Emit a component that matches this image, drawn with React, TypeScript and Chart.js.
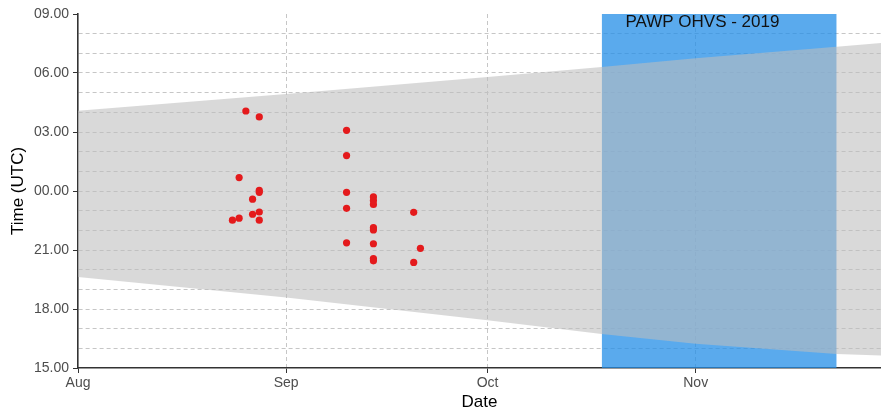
import React, { useEffect, useRef } from 'react';
import { Chart, registerables } from 'chart.js';

Chart.register(...registerables);

// ---- data ----
const ORIGIN = '2019-08-01';
const X_MAX = '2019-11-28T14:24';
const MONTH_TICKS = ['2019-08-01', '2019-09-01', '2019-10-01', '2019-11-01'];
const MONTH_LABELS = ['Aug', 'Sep', 'Oct', 'Nov'];
const Y_MIN = 15;
const Y_MAX = 33;
const HOUR_TICKS = [15, 16, 17, 18, 19, 20, 21, 22, 23, 24, 25, 26, 27, 28, 29, 30, 31, 32, 33];

const POINT_DATES = [
  '2019-08-24', '2019-08-25', '2019-08-25', '2019-08-26', '2019-08-27', '2019-08-27',
  '2019-08-28', '2019-08-28', '2019-08-28', '2019-08-28', '2019-08-28',
  '2019-09-10', '2019-09-10', '2019-09-10', '2019-09-10', '2019-09-10',
  '2019-09-14', '2019-09-14', '2019-09-14', '2019-09-14', '2019-09-14', '2019-09-14', '2019-09-14', '2019-09-14',
  '2019-09-20', '2019-09-20', '2019-09-21',
];
const POINT_TIMES = [
  '22:31', '00:41', '22:37', '04:04', '23:35', '22:49',
  '03:46', '00:02', '23:56', '22:56', '22:31',
  '03:05', '01:48', '23:56', '23:07', '21:22',
  '23:42', '23:31', '23:19', '22:08', '22:01', '21:19', '20:34', '20:27',
  '22:55', '20:22', '21:05',
];

const BAND_DATES = ['2019-08-01', '2019-09-01', '2019-10-01', '2019-10-18', '2019-11-01', '2019-11-22', '2019-11-30'];
const BAND_TOP = ['04:05', '04:56', '05:48', '06:18', '06:45', '07:20', '07:34'];
const BAND_BOTTOM = ['19:38', '18:35', '17:26', '16:44', '16:14', '15:43', '15:37'];

const RECT_START = '2019-10-18';
const RECT_END = '2019-11-22';
const RECT_LABEL = 'PAWP OHVS - 2019';
const RECT_LABEL_DATE = '2019-11-02';
const RECT_LABEL_TIME = '08:34';

// ---- helpers ----
const dayOf = (s: string) => {
  const iso = s.length === 10 ? s + 'T00:00Z' : s + 'Z';
  return (Date.parse(iso) - Date.parse(ORIGIN + 'T00:00Z')) / 86400000;
};
const hourOf = (t: string) => {
  const [h, m] = t.split(':').map(Number);
  const v = h + m / 60;
  return v < Y_MIN ? v + 24 : v;
};
const fmtHour = (v: number) => String(((Math.round(v) % 24) + 24) % 24).padStart(2, '0') + '.00';

const FONT = "'Liberation Sans', Arial, sans-serif";
const GRID = '#c6c6c6';
const AXIS = '#333333';
const TICK_TXT = '#4d4d4d';

const labelPlugin = {
  id: 'rectLabel',
  afterDatasetsDraw(chart: any) {
    const { ctx, scales } = chart;
    const x = scales.x.getPixelForValue(dayOf(RECT_LABEL_DATE));
    const y = scales.y.getPixelForValue(hourOf(RECT_LABEL_TIME));
    ctx.save();
    ctx.font = `17px ${FONT}`;
    ctx.fillStyle = '#111';
    ctx.textAlign = 'center';
    ctx.textBaseline = 'middle';
    ctx.fillText(RECT_LABEL, x, y);
    ctx.restore();
  },
};

export default function App() {
  const ref = useRef<HTMLCanvasElement>(null);
  useEffect(() => {
    if (!ref.current) return;
    const monthDays = MONTH_TICKS.map(dayOf);
    const points = POINT_DATES.map((d, i) => ({ x: dayOf(d), y: hourOf(POINT_TIMES[i]) }));
    const top = BAND_DATES.map((d, i) => ({ x: dayOf(d), y: hourOf(BAND_TOP[i]) }));
    const bottom = BAND_DATES.map((d, i) => ({ x: dayOf(d), y: hourOf(BAND_BOTTOM[i]) }));
    const rect = [
      { x: dayOf(RECT_START), y: Y_MAX },
      { x: dayOf(RECT_END), y: Y_MAX },
    ];
    const chart = new Chart(ref.current, {
      type: 'line',
      data: {
        datasets: [
          {
            data: points,
            showLine: false,
            pointRadius: 3.6,
            pointBorderWidth: 0,
            pointBackgroundColor: 'rgb(228,26,28)',
            borderColor: 'rgb(228,26,28)',
            order: 0,
          } as any,
          {
            data: top,
            borderWidth: 0,
            borderColor: 'transparent',
            pointRadius: 0,
            fill: '+1',
            backgroundColor: 'rgba(189,189,189,0.58)',
            tension: 0,
            order: 1,
          },
          {
            data: bottom,
            borderWidth: 0,
            borderColor: 'transparent',
            pointRadius: 0,
            fill: false,
            tension: 0,
            order: 1,
          },
          {
            data: rect,
            borderWidth: 0,
            borderColor: 'transparent',
            pointRadius: 0,
            fill: 'start',
            backgroundColor: 'rgba(35,142,231,0.75)',
            order: 2,
          },
        ],
      },
      options: {
        animation: false,
        responsive: true,
        maintainAspectRatio: false,
        layout: { padding: { top: 14, right: 0, left: 0, bottom: 0 } },
        plugins: { legend: { display: false }, tooltip: { enabled: false } },
        scales: {
          x: {
            type: 'linear',
            min: 0,
            max: dayOf(X_MAX),
            afterBuildTicks: (s: any) => {
              s.ticks = monthDays.map((v) => ({ value: v }));
            },
            afterFit: (s: any) => {
              s.height = 46;
              s.paddingLeft = 0;
              s.paddingRight = 0;
            },
            ticks: {
              autoSkip: false,
              maxRotation: 0,
              padding: 2,
              color: TICK_TXT,
              font: { family: FONT, size: 14 },
              callback: (v: any) => {
                const i = monthDays.indexOf(Number(v));
                return i >= 0 ? MONTH_LABELS[i] : '';
              },
            },
            grid: {
              color: (c: any) => (c.tick && c.tick.value === 0 ? 'transparent' : GRID),
              lineWidth: 1,
              tickLength: 5,
              tickColor: AXIS,
              tickWidth: 1,
            },
            border: { display: true, color: AXIS, width: 1.6, dash: [4, 3] },
            title: {
              display: true,
              text: 'Date',
              color: '#000',
              font: { family: FONT, size: 17 },
              padding: { top: 0, bottom: 1 },
            },
          },
          y: {
            type: 'linear',
            min: Y_MIN,
            max: Y_MAX,
            afterBuildTicks: (s: any) => {
              s.ticks = HOUR_TICKS.map((v) => ({ value: v }));
            },
            afterFit: (s: any) => {
              s.width = 78;
              s.paddingTop = 0;
              s.paddingBottom = 0;
            },
            ticks: {
              autoSkip: false,
              padding: 4,
              color: TICK_TXT,
              font: { family: FONT, size: 14 },
              callback: (v: any) => (Number(v) % 3 === 0 ? fmtHour(Number(v)) : ''),
            },
            grid: {
              color: (c: any) =>
                c.tick && (c.tick.value === Y_MIN || c.tick.value === Y_MAX) ? 'transparent' : GRID,
              lineWidth: 1,
              tickLength: 5,
              tickColor: (c: any) => (c.tick && c.tick.value % 3 === 0 ? AXIS : 'transparent'),
              tickWidth: 1,
            },
            border: { display: true, color: AXIS, width: 1.6, dash: [4, 3] },
            title: {
              display: true,
              text: 'Time (UTC)',
              color: '#000',
              font: { family: FONT, size: 17 },
              padding: { top: 8, bottom: 0 },
            },
          },
        },
      } as any,
      plugins: [labelPlugin],
    });
    return () => chart.destroy();
  }, []);
  return (
    <div style={{ position: 'fixed', left: 0, top: 0, width: 885, height: 414 }}>
      <canvas ref={ref} />
    </div>
  );
}
